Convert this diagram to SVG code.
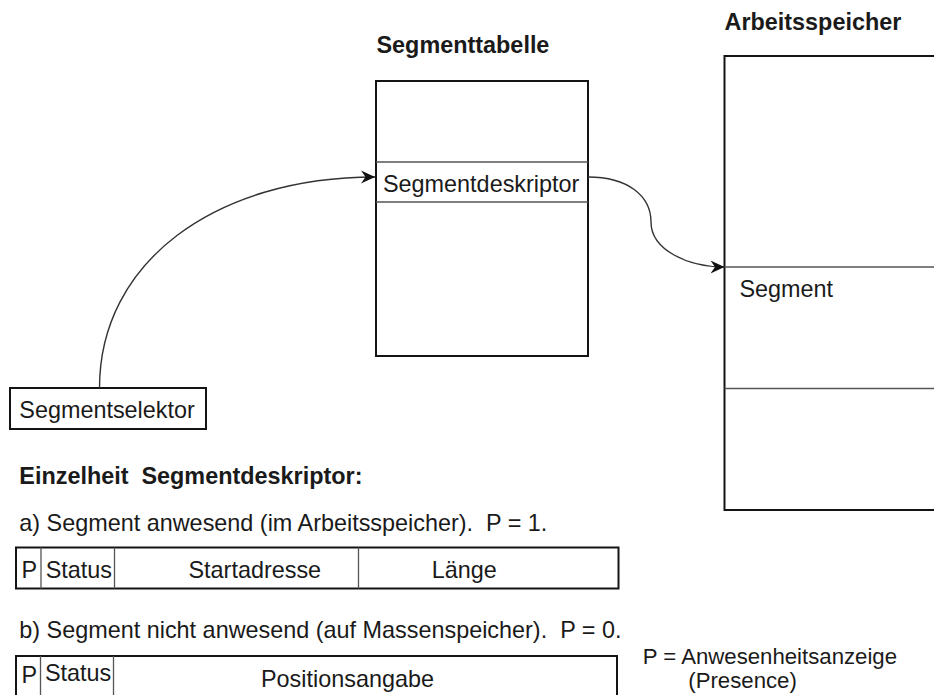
<svg xmlns="http://www.w3.org/2000/svg" width="934" height="695" viewBox="0 0 934 695">
  <style>
    .box { fill: none; stroke: #141414; stroke-width: 2; }
    .div { fill: none; stroke: #555; stroke-width: 1.3; }
    .t { font-family: "Liberation Sans", Arial, sans-serif; font-size: 23.4px; fill: #1a1a1a; }
    .b { font-weight: bold; }
    .leg { font-size: 22.2px; }
    .conn { fill: none; stroke: #333; stroke-width: 1.4; }
  </style>
  <defs>
    <marker id="arrow" markerUnits="userSpaceOnUse" markerWidth="16" markerHeight="14" viewBox="-14 -7 16 14" refX="0" refY="0" orient="auto">
      <path d="M0,0 L-14,-6.5 L-9.5,0 L-14,6.5 Z" fill="#111"/>
    </marker>
  </defs>
  <rect width="934" height="695" fill="#ffffff"/>

  <!-- segment table -->
  <g id="segmenttabelle">
    <text class="t b" x="376.5" y="53">Segmenttabelle</text>
    <rect class="box" x="376" y="81" width="212" height="275"/>
    <line class="div" x1="376" y1="162" x2="588" y2="162"/>
    <line class="div" x1="376" y1="202" x2="588" y2="202"/>
    <text class="t" x="383" y="191.5">Segmentdeskriptor</text>
  </g>

  <!-- main memory (runs past the right edge) -->
  <g id="arbeitsspeicher">
    <text class="t b" x="724.5" y="30">Arbeitsspeicher</text>
    <rect class="box" x="724.5" y="56" width="220" height="454"/>
    <line class="div" x1="724.5" y1="267" x2="934" y2="267"/>
    <line class="div" x1="724.5" y1="388.5" x2="934" y2="388.5"/>
    <text class="t" x="739.5" y="296.5">Segment</text>
  </g>

  <!-- selector -->
  <g id="segmentselektor">
    <rect class="box" x="10" y="388" width="196" height="41"/>
    <text class="t" x="19.3" y="418.3">Segmentselektor</text>
  </g>

  <!-- connectors -->
  <g id="connectors">
    <path class="conn" d="M99.5,388 C99.5,262 215,177 375,177" marker-end="url(#arrow)"/>
    <path class="conn" d="M588,177 C628,177 651,196 651,222 C651,250 688,267 724.5,267" marker-end="url(#arrow)"/>
  </g>

  <!-- descriptor detail -->
  <g id="einzelheit">
    <text class="t b" x="19.3" y="484.3" xml:space="preserve">Einzelheit  Segmentdeskriptor:</text>
    <text class="t" x="19.3" y="531" xml:space="preserve">a) Segment anwesend (im Arbeitsspeicher).  P = 1.</text>
    <text class="t" x="19.3" y="638" xml:space="preserve">b) Segment nicht anwesend (auf Massenspeicher).  P = 0.</text>
  </g>

  <g id="deskriptor-a">
    <rect class="box" x="16" y="547.5" width="602.5" height="41"/>
    <line class="div" x1="41" y1="547.5" x2="41" y2="588.5"/>
    <line class="div" x1="114.5" y1="547.5" x2="114.5" y2="588.5"/>
    <line class="div" x1="358.5" y1="547.5" x2="358.5" y2="588.5"/>
    <text class="t" x="21.5" y="578">P</text>
    <text class="t" x="45.7" y="578">Status</text>
    <text class="t" x="188.5" y="578">Startadresse</text>
    <text class="t" x="431.7" y="578">Länge</text>
  </g>

  <g id="deskriptor-b">
    <rect class="box" x="16" y="656" width="601" height="60"/>
    <line class="div" x1="40.5" y1="656" x2="40.5" y2="716"/>
    <line class="div" x1="113.5" y1="656" x2="113.5" y2="716"/>
    <text class="t" x="21.5" y="682.5">P</text>
    <text class="t" x="45" y="681">Status</text>
    <text class="t" x="261" y="686.5">Positionsangabe</text>
  </g>

  <g id="legende">
    <text class="t leg" x="642.7" y="663.5">P = Anwesenheitsanzeige</text>
    <text class="t leg" x="688.3" y="688">(Presence)</text>
  </g>
</svg>
